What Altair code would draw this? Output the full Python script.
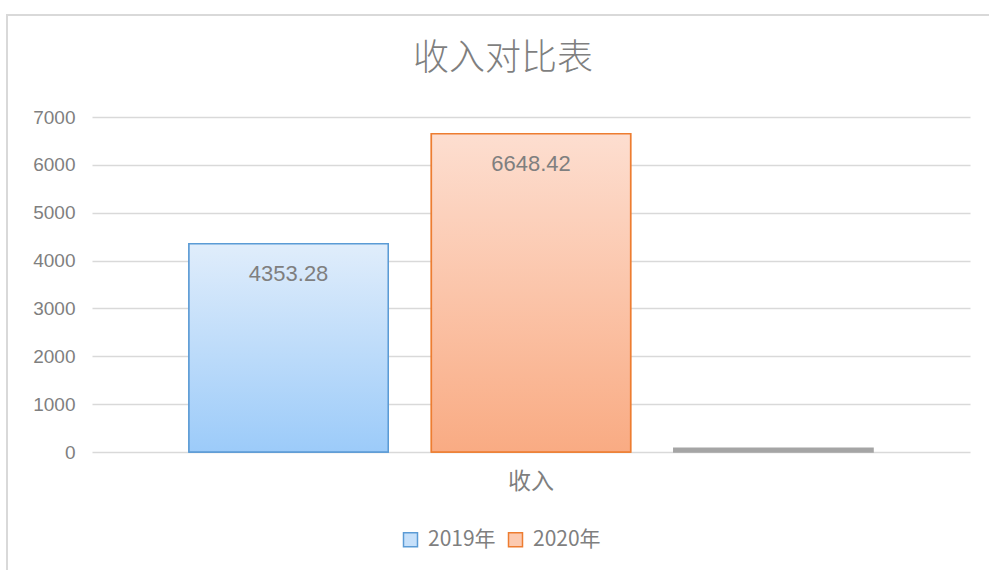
import altair as alt
import pandas as pd

category = ["收入", "收入", "收入"]
series = ["2019年", "2020年", "系列3"]
values = [4353.28, 6648.42, 80]
labels = ["4353.28", "6648.42", ""]

df = pd.DataFrame({"category": category, "series": series, "value": values, "label": labels})

series_domain = ["2019年", "2020年", "系列3"]
fill_range = ["#C6E0FA", "#FCCAB0", "#A5A5A5"]
stroke_range = ["#5B9BD5", "#ED7D31", "#A5A5A5"]

NUM_FONT = "Liberation Sans"
CJK_FONT = "Noto Sans CJK SC"
GRAY = "#7F7F7F"

legend_def = alt.Legend(
    title=None, orient="none", legendX=308, legendY=412, direction="horizontal",
    values=["2019年", "2020年"], symbolType="square", symbolSize=196,
    symbolStrokeWidth=1.5, labelFont=CJK_FONT, labelFontSize=21, labelColor=GRAY,
    labelOffset=7, columnPadding=9,
)

x_enc = alt.X("category:N", title=None,
              scale=alt.Scale(paddingInner=0, paddingOuter=0),
              axis=alt.Axis(labelAngle=0, domain=False, ticks=False, tickSize=0, grid=False,
                            labelFont=CJK_FONT, labelFontSize=23, labelColor=GRAY,
                            labelPadding=18, labelBaseline="top"))
xo_enc = alt.XOffset("series:N", scale=alt.Scale(domain=series_domain, paddingInner=0.178, paddingOuter=0.4))
y_enc = alt.Y("value:Q", title=None,
              scale=alt.Scale(domain=[0, 7000], nice=False),
              axis=alt.Axis(values=[0, 1000, 2000, 3000, 4000, 5000, 6000, 7000], format="d",
                            domain=False, ticks=False, tickSize=0, labelPadding=17,
                            labelFont=NUM_FONT, labelFontSize=19, labelColor=GRAY,
                            gridColor="#D9D9D9", gridWidth=1.5))

base = alt.Chart(df)

legend_bars = base.mark_bar(strokeWidth=1.5).encode(
    x=x_enc, xOffset=xo_enc, y=y_enc,
    fill=alt.Fill("series:N", scale=alt.Scale(domain=series_domain, range=fill_range), legend=legend_def),
    stroke=alt.Stroke("series:N", scale=alt.Scale(domain=series_domain, range=stroke_range), legend=legend_def),
)

blue_grad = alt.LinearGradient(gradient="linear", x1=0, x2=0, y1=0, y2=1,
                               stops=[alt.GradientStop(color="#E0EDFB", offset=0),
                                      alt.GradientStop(color="#9CCBF9", offset=1)])
orange_grad = alt.LinearGradient(gradient="linear", x1=0, x2=0, y1=0, y2=1,
                                 stops=[alt.GradientStop(color="#FDDED0", offset=0),
                                        alt.GradientStop(color="#F9AB83", offset=1)])

blue_bar = base.transform_filter(alt.datum.series == "2019年").mark_bar(
    fill=blue_grad, stroke="#5B9BD5", strokeWidth=1.5).encode(x=x_enc, xOffset=xo_enc, y=y_enc)
orange_bar = base.transform_filter(alt.datum.series == "2020年").mark_bar(
    fill=orange_grad, stroke="#ED7D31", strokeWidth=1.5).encode(x=x_enc, xOffset=xo_enc, y=y_enc)

text = base.transform_filter(alt.datum.label != "").mark_text(
    font=NUM_FONT, fontSize=22, color=GRAY, baseline="middle", dy=30).encode(
    x=x_enc, xOffset=xo_enc, y=y_enc, text="label:N")

frame_data = alt.Data(values=[{"a": 1}])
frame_top = alt.Chart(frame_data).mark_rule(color="#D9D9D9", strokeWidth=2).encode(
    x=alt.value(-86), x2=alt.value(900), y=alt.value(-102))
frame_left = alt.Chart(frame_data).mark_rule(color="#D9D9D9", strokeWidth=2).encode(
    x=alt.value(-85), y=alt.value(-102), y2=alt.value(470))

chart = alt.layer(legend_bars, blue_bar, orange_bar, text, frame_top, frame_left).properties(
    width=878, height=335,
    background="white",
    title=alt.TitleParams("收入对比表", font=CJK_FONT, fontSize=36, fontWeight=300,
                          color=GRAY, anchor="middle", frame="group", offset=-64, dx=-28),
    padding={"left": 92, "top": 117, "right": 19, "bottom": 118},
    autosize=alt.AutoSizeParams(type="none"),
).configure_view(strokeWidth=0, stroke="transparent")

chart.save("out.html", embed_options={"renderer": "svg", "actions": False})
